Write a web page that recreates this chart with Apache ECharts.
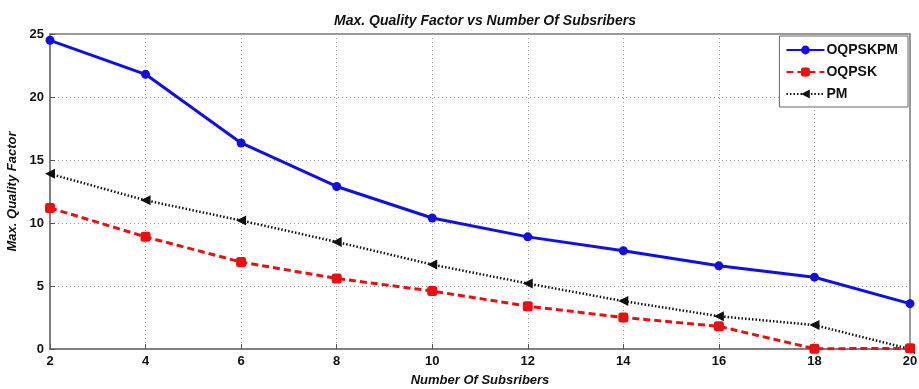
<!DOCTYPE html>
<html><head><meta charset="utf-8">
<script src="https://cdn.jsdelivr.net/npm/echarts@6/dist/echarts.min.js"></script>
<style>html,body{margin:0;padding:0;background:#fff}#c{width:919px;height:389px}</style>
</head><body><div id="c"></div>
<script>
const categories = [2, 4, 6, 8, 10, 12, 14, 16, 18, 20];
const oqpskpm = [24.5, 21.8, 16.35, 12.9, 10.4, 8.9, 7.8, 6.6, 5.7, 3.6];
const oqpsk = [11.2, 8.9, 6.9, 5.6, 4.6, 3.4, 2.5, 1.8, 0.02, 0.05];
const pm = [13.9, 11.8, 10.2, 8.5, 6.7, 5.2, 3.8, 2.6, 1.9, 0.0];
const yTicks = [0, 5, 10, 15, 20, 25];

const chart = echarts.init(document.getElementById('c'));
const font = 'Liberation Sans, Arial, sans-serif';
const pair = a => categories.map((x, i) => [x, a[i]]);
chart.setOption({
  animation: false,
  backgroundColor: '#fff',
  title: {
    text: 'Max. Quality Factor vs Number Of Subsribers',
    left: 480, top: 9, textAlign: 'center',
    textStyle: { fontFamily: font, fontSize: 14, fontWeight: 'bold', fontStyle: 'italic', color: '#111' }
  },
  grid: { left: 50, right: 9, top: 34, bottom: 40, show: true, borderColor: '#777', borderWidth: 1.5,
    outerBoundsMode: 'none', containLabel: false },
  legend: {
    right: 11, top: 36, orient: 'vertical', itemGap: 8, itemWidth: 38, itemHeight: 11,
    backgroundColor: '#fff', borderColor: '#666', borderWidth: 1, padding: [7, 10, 6, 6],
    textStyle: { fontFamily: font, fontSize: 14, fontWeight: 'bold', color: '#111', padding: [0, 0, 0, -3] },
    data: ['OQPSKPM', 'OQPSK', 'PM']
  },
  xAxis: {
    type: 'value', min: 2, max: 20, interval: 2,
    name: 'Number Of Subsribers', nameLocation: 'middle', nameGap: 25,
    nameTextStyle: { fontFamily: font, fontSize: 13, fontWeight: 'bold', fontStyle: 'italic', color: '#111' },
    axisLine: { show: true, lineStyle: { color: '#777', width: 1.5 } },
    axisTick: { inside: true, length: 5, lineStyle: { color: '#555' } },
    axisLabel: { fontFamily: font, fontSize: 13, fontWeight: 'bold', color: '#111', margin: 6 },
    splitLine: { show: true, lineStyle: { type: [1, 3], color: '#999' } }
  },
  yAxis: {
    type: 'value', min: 0, max: 25, interval: 5,
    name: 'Max. Quality Factor', nameLocation: 'middle', nameGap: 24, nameRotate: 90,
    nameTextStyle: { fontFamily: font, fontSize: 13, fontWeight: 'bold', fontStyle: 'italic', color: '#111' },
    axisLine: { show: true, lineStyle: { color: '#777', width: 1.5 } },
    axisTick: { inside: true, length: 5, lineStyle: { color: '#555' } },
    axisLabel: { fontFamily: font, fontSize: 13, fontWeight: 'bold', color: '#111', margin: 6,
      formatter: v => yTicks.includes(v) ? String(v) : '' },
    splitLine: { show: true, lineStyle: { type: [1, 3], color: '#999' } }
  },
  series: [
    { name: 'OQPSKPM', type: 'line', data: pair(oqpskpm), symbol: 'circle', symbolSize: 9,
      lineStyle: { color: '#1010e0', width: 3 }, itemStyle: { color: '#1010e0' }, z: 3 },
    { name: 'OQPSK', type: 'line', data: pair(oqpsk), symbol: 'roundRect', symbolSize: 10,
      lineStyle: { color: '#e81010', width: 3, type: [7, 4] }, itemStyle: { color: '#e81010' }, z: 2 },
    { name: 'PM', type: 'line', data: pair(pm), symbol: 'triangle', symbolRotate: 90, symbolSize: 10,
      lineStyle: { color: '#111', width: 2.5, type: [1.5, 2] }, itemStyle: { color: '#111' }, z: 1 }
  ]
});
</script></body></html>
